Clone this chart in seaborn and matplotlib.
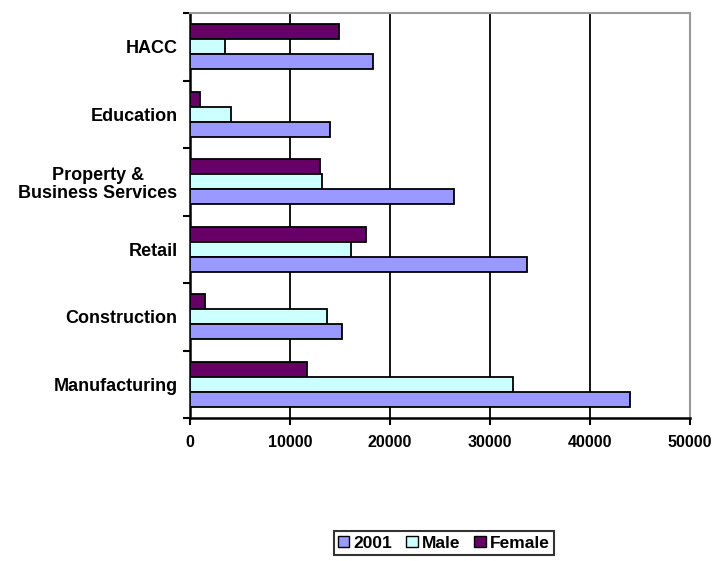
import seaborn as sns
import matplotlib.pyplot as plt
import pandas as pd
from matplotlib.patches import Patch

# data
categories = ['HACC', 'Education', 'Property &\nBusiness Services', 'Retail',
              'Construction', 'Manufacturing']
vals_2001 = [18300, 14000, 26400, 33700, 15200, 44000]
vals_male = [3500, 4100, 13200, 16100, 13700, 32300]
vals_female = [14900, 1000, 13000, 17600, 1500, 11700]
x_ticks = [0, 10000, 20000, 30000, 40000, 50000]

df = pd.concat([
    pd.DataFrame({'cat': categories, 'series': '2001', 'value': vals_2001}),
    pd.DataFrame({'cat': categories, 'series': 'Male', 'value': vals_male}),
    pd.DataFrame({'cat': categories, 'series': 'Female', 'value': vals_female}),
])

colors = {'2001': '#9999ff', 'Male': '#ccffff', 'Female': '#660066'}

sns.set_style('white', {'text.color': 'black', 'xtick.color': 'black',
                        'ytick.color': 'black', 'axes.labelcolor': 'black'})
plt.rcParams['font.family'] = ['Liberation Sans', 'DejaVu Sans']

fig = plt.figure(figsize=(7.24, 5.61), dpi=100)
ax = fig.add_axes([190 / 724, 1 - 418 / 561, 500 / 724, 405 / 561])

sns.barplot(data=df, y='cat', x='value', hue='series', order=categories,
            hue_order=['Female', 'Male', '2001'], palette=colors, orient='h',
            width=0.67, saturation=1, edgecolor='black', linewidth=1.3,
            legend=False, ax=ax, zorder=3)

ax.set_xlim(0, 50000)
ax.set_ylim(len(categories) - 0.5, -0.5)
ax.set_xticks(x_ticks)
ax.set_xticklabels([str(t) for t in x_ticks], fontsize=11.5, fontweight='bold')
ax.set_yticks(range(len(categories)))
ax.set_yticklabels(categories, fontsize=13, fontweight='bold', multialignment='center',
                   linespacing=1.1)
ax.tick_params(axis='y', length=0, pad=9)
ax.set_yticks([i - 0.5 for i in range(len(categories) + 1)], minor=True)
ax.tick_params(axis='y', which='minor', length=5, width=1.5, direction='out', left=True)
ax.tick_params(axis='x', length=5, width=1.5, direction='out', bottom=True, pad=7)
ax.set_xlabel('')
ax.set_ylabel('')

ax.grid(False)
for t in x_ticks[1:-1]:
    ax.axvline(t, color='black', linewidth=1.3, zorder=1)

for side in ['left', 'bottom']:
    ax.spines[side].set_color('black')
    ax.spines[side].set_linewidth(1.8)
for side in ['top', 'right']:
    ax.spines[side].set_color('#999999')
    ax.spines[side].set_linewidth(1.5)

handles = [Patch(facecolor=colors[s], edgecolor='black', label=s) for s in ['2001', 'Male', 'Female']]
leg = fig.legend(handles=handles, loc='center', bbox_to_anchor=(444 / 724, 1 - 543 / 561),
                 ncol=3, frameon=True, fancybox=False, handlelength=0.65, handleheight=0.65,
                 handletextpad=0.25, columnspacing=0.8, borderpad=0.25,
                 prop={'weight': 'bold', 'size': 12.5})
leg.get_frame().set_edgecolor('black')
leg.get_frame().set_linewidth(1.5)

plt.savefig('out.png', dpi=100)
